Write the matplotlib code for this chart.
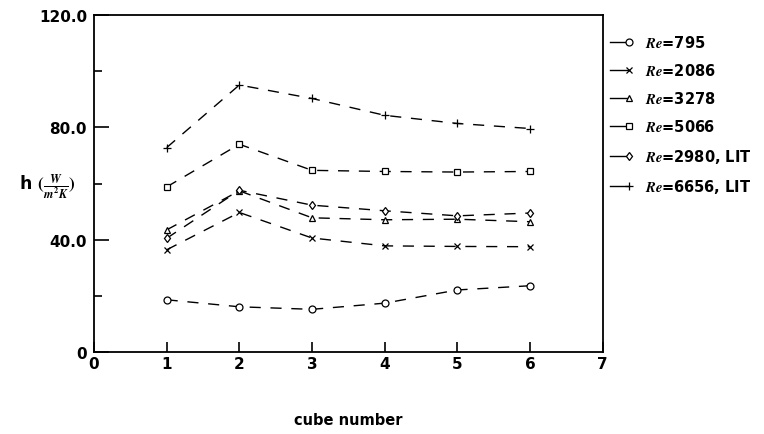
import numpy as np
import matplotlib
matplotlib.use("Agg")
import matplotlib.pyplot as plt
from matplotlib.legend_handler import HandlerLine2DCompound

plt.rcParams['font.family'] = ['DejaVu Sans']
plt.rcParams['font.weight'] = 'bold'
plt.rcParams['mathtext.fontset'] = 'stix'

# cube number on the x axis
cubes = [1, 2, 3, 4, 5, 6]

# heat transfer coefficient h (W/m^2K)
h_795 = [18.6, 16.1, 15.2, 17.4, 22.1, 23.6]
h_2086 = [36.4, 49.7, 40.6, 37.8, 37.6, 37.5]
h_3278 = [43.5, 57.4, 47.8, 47.1, 47.3, 46.4]
h_5066 = [58.8, 74.0, 64.7, 64.3, 64.1, 64.3]
h_2980_lit = [40.5, 57.6, 52.3, 50.3, 48.5, 49.5]
h_6656_lit = [72.8, 95.1, 90.3, 84.3, 81.4, 79.6]

labels = [r'$Re$=795', r'$Re$=2086', r'$Re$=3278', r'$Re$=5066',
          r'$Re$=2980, LIT', r'$Re$=6656, LIT']
markers = ['o', 'x', '^', 's', 'd', '+']
msizes = [5, 5, 5, 5, 4.5, 6]
series = [h_795, h_2086, h_3278, h_5066, h_2980_lit, h_6656_lit]


# legend handle: solid short line with the marker at its right end
class EndMarker(HandlerLine2DCompound):
    def get_xdata(self, legend, xdescent, ydescent, width, height, fontsize):
        xdata = np.array([-xdescent, -xdescent + width])
        return xdata, np.array([-xdescent + width])

    def create_artists(self, *args, **kwargs):
        arts = super().create_artists(*args, **kwargs)
        arts[0].set_linestyle('-')
        return arts


fig = plt.figure(figsize=(7.64, 4.35), dpi=100)
ax = fig.add_axes([0.123, 0.1885, 0.666, 0.7745])

for vals, mk, ms, lab in zip(series, markers, msizes, labels):
    ax.plot(cubes, vals, color='black', lw=1.0, dashes=(8, 7),
            marker=mk, markersize=ms, markerfacecolor='white',
            markeredgecolor='black', markeredgewidth=0.9, label=lab)

ax.set_xlim(0, 7)
ax.set_ylim(0, 120)
ax.set_xticks(range(0, 8))
ax.set_yticks([0, 40, 80, 120])
ax.set_yticklabels(['0', '40.0', '80.0', '120.0'])
ax.set_yticks([20, 60, 100], minor=True)

ax.tick_params(axis='both', which='both', direction='in', width=1.2,
               labelsize=11, colors='black')
ax.tick_params(axis='y', which='major', length=11, pad=5)
ax.tick_params(axis='y', which='minor', length=6)
ax.tick_params(axis='x', which='major', length=7, pad=3)
for lab in ax.get_xticklabels() + ax.get_yticklabels():
    lab.set_fontweight('bold')

for sp in ax.spines.values():
    sp.set_linewidth(1.3)

ax.set_xlabel('cube number', fontsize=10.5, fontweight='bold', va='center')
ax.xaxis.set_label_coords(0.5, -0.199)
ax.set_ylabel(r'h $(\frac{W}{m^2K})$', fontsize=12.5, fontweight='bold',
              rotation=0, ha='right', va='center')
ax.yaxis.set_label_coords(-0.037, 0.493)

leg = ax.legend(loc='upper left', bbox_to_anchor=(1.015, 0.945),
                frameon=False, fontsize=10.5, handlelength=1.3,
                handletextpad=1.1, labelspacing=0.84, borderpad=0,
                borderaxespad=0, numpoints=1,
                handler_map={matplotlib.lines.Line2D: EndMarker()})
for t in leg.get_texts():
    t.set_fontweight('bold')

fig.savefig('out.png', dpi=100)
